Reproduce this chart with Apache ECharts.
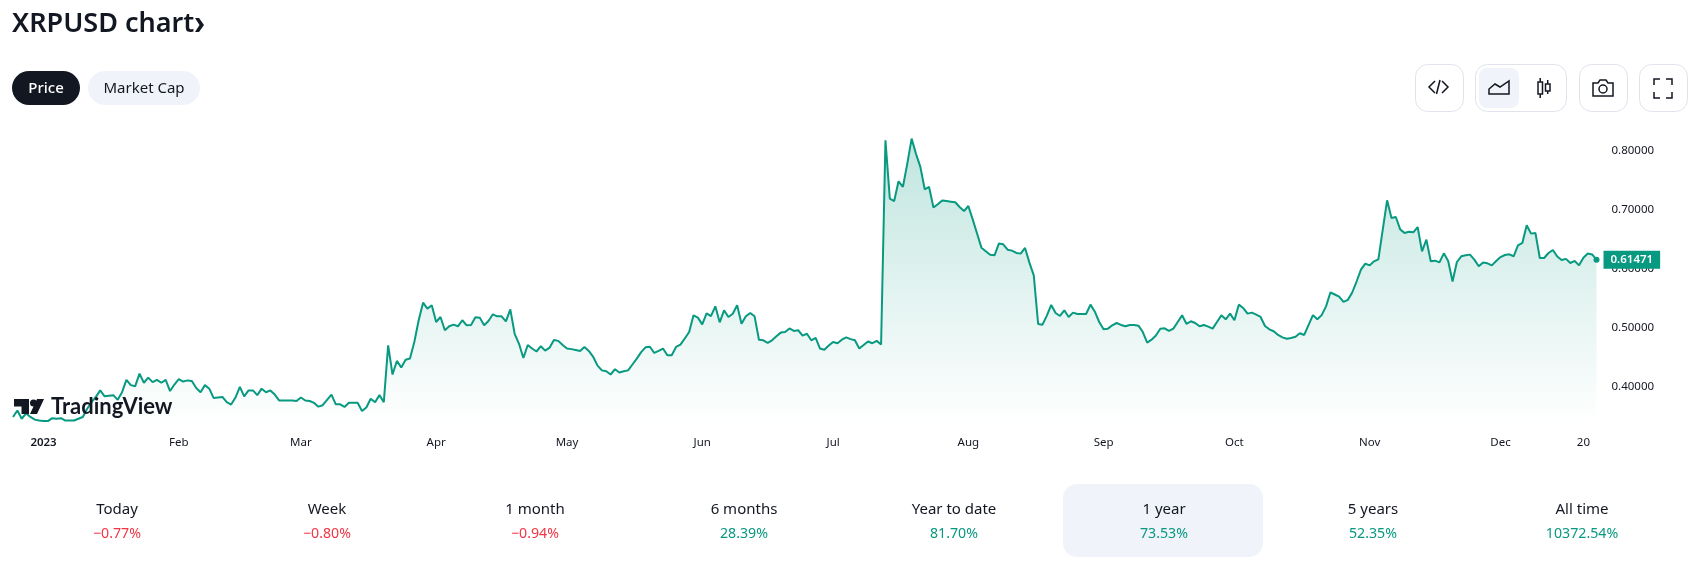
<!DOCTYPE html>
<html><head><meta charset="utf-8">
<style>html,body{margin:0;padding:0;background:#fff;overflow:hidden}#c{width:1696px;height:564px}</style>
<script src="https://cdn.jsdelivr.net/npm/echarts@6/dist/echarts.min.js"></script>
</head><body><div id="c"></div>
<script>
const startDate = "2022-12-25";
const prices = [
.348,.359,.345,.354,.348,.3435,.342,.341,.341,.346,
.345,.346,.342,.342,.342,.345,.348,.362,.373,.382,
.393,.383,.384,.385,.377,.390,.411,.402,.400,.4215,
.406,.4147,.407,.411,.406,.411,.392,.403,.412,.408,
.410,.409,.397,.390,.402,.396,.380,.381,.382,.373,
.369,.381,.399,.383,.393,.393,.385,.396,.390,.393,
.386,.376,.376,.376,.376,.375,.381,.376,.375,.372,
.3655,.368,.377,.386,.3695,.3695,.365,.372,.372,.372,
.358,.364,.379,.373,.385,.373,.4695,.420,.443,.432,
.445,.447,.475,.512,.5418,.5316,.5373,.509,.5175,.495,
.5017,.5045,.5017,.512,.5034,.504,.517,.5164,.5034,.5107,
.522,.5186,.5186,.510,.5305,.489,.472,.448,.470,.464,
.459,.468,.4605,.4655,.4785,.477,.470,.464,.463,.4615,
.46,.4667,.46,.45,.435,.427,.4255,.42,.429,.4235,
.4255,.427,.437,.447,.458,.466,.467,.4565,.46,.464,
.4525,.4525,.4667,.4706,.481,.492,.5203,.5164,.505,.5237,
.519,.5356,.5085,.5288,.5175,.523,.5373,.506,.5186,.5243,
.5186,.479,.478,.4735,.478,.4847,.491,.492,.498,.4938,
.495,.486,.489,.478,.482,.464,.462,.469,.475,.473,
.479,.483,.480,.478,.464,.470,.476,.473,.477,.471,
.817,.718,.714,.7475,.738,.777,.8198,.794,.772,.734,
.738,.703,.7085,.715,.714,.713,.712,.704,.697,.7056,
.683,.659,.635,.629,.623,.622,.642,.6407,.6316,.63,
.626,.6249,.6345,.6096,.588,.5056,.5045,.5198,.5379,.5243,
.5192,.5288,.5175,.5249,.5226,.5226,.5226,.5384,.5265,.509,
.4966,.4977,.5034,.5073,.504,.5017,.504,.504,.5028,.492,
.474,.479,.486,.4977,.4983,.4938,.4977,.509,.5203,.506,
.5102,.5073,.5017,.504,.5011,.4977,.509,.5203,.5136,.5232,
.5119,.5384,.5328,.5232,.5249,.5215,.5175,.5023,.4966,.4933,
.487,.483,.4805,.482,.484,.49,.487,.504,.5207,.5135,
.5207,.5355,.559,.5556,.552,.543,.5465,.559,.5776,.5977,
.6079,.605,.6119,.6153,.6655,.7153,.6853,.687,.666,.66,
.662,.661,.67,.6288,.6486,.6119,.613,.61,.6254,.6124,
.5776,.6107,.6204,.622,.6232,.6147,.6034,.61,.6085,.605,
.6124,.619,.6226,.6237,.6204,.639,.643,.673,.6588,.66,
.6175,.6175,.626,.631,.62,.614,.616,.609,.6125,.605,
.618,.625,.6235,.61471
];
const yTicks = [0.4,0.5,0.6,0.7,0.8];
const xTickLabels = {"2023-01-01":"2023","2023-02-01":"Feb","2023-03-01":"Mar","2023-04-01":"Apr","2023-05-01":"May","2023-06-01":"Jun","2023-07-01":"Jul","2023-08-01":"Aug","2023-09-01":"Sep","2023-10-01":"Oct","2023-11-01":"Nov","2023-12-01":"Dec","2023-12-20":"20"};
const tabNames = ["Today","Week","1 month","6 months","Year to date","1 year","5 years","All time"];
const tabChanges = ["−0.77%","−0.80%","−0.94%","28.39%","81.70%","73.53%","52.35%","10372.54%"];
const tabCenters = [117,327,535,744,954,1164,1373,1582];

const categories = prices.map((_, i) => {
  const d = new Date(startDate + "T00:00:00Z"); d.setUTCDate(d.getUTCDate() + i);
  return d.toISOString().slice(0,10);
});
const FONT = '"Noto Sans",sans-serif', INK = '#131722', GREEN = '#089981', RED = '#f23645', PALE = '#f0f3fa', EDGE = '#e0e3eb';
const txt = (x,y,text,size,color,weight,align,family) => ({type:'text',z:20,x,y,style:{text,fontFamily:family||FONT,fontSize:size,fill:color,fontWeight:weight||400,align:align||'center',verticalAlign:'middle'}});
const box = (x,y,w,h,r,fill,stroke) => ({type:'rect',z:15,shape:{x,y,width:w,height:h,r},style:{fill:fill||'#fff',stroke:stroke||null,lineWidth:1}});
const pl = (points) => ({type:'polyline',z:20,shape:{points},style:{fill:'none',stroke:INK,lineWidth:1.5}});
const pg = (points,fill) => ({type:'polygon',z:20,shape:{points},style:fill?{fill,stroke:null}:{fill:'none',stroke:INK,lineWidth:1.5}});
const rc = (x,y,w,h) => ({type:'rect',z:20,shape:{x,y,width:w,height:h},style:{fill:'none',stroke:INK,lineWidth:1.5}});
const graphics = [
  txt(12,24,'XRPUSD chart',27,INK,600,'left'),
  pg([[195,18],[199,18],[204,25],[199,32],[195,32],[199.5,25]],INK),
  box(12,71,68,34,17,INK), txt(46,89,'Price',15,'#fff',500),
  box(88,71,112,34,17,PALE), txt(144,89,'Market Cap',15,INK,400),
  box(1415.5,64.5,48,47,12,'#fff',EDGE),
  pl([[1435,81],[1429,87],[1435,93]]), pl([[1440,80],[1436.5,94]]), pl([[1442,81],[1448,87],[1442,93]]),
  box(1475.5,64.5,91,47,12,'#fff',EDGE), box(1479,68,40,40,8,PALE),
  pg([[1489,94],[1489,89],[1495,84],[1500,87],[1509,81],[1509,94]]),
  rc(1538,82,4.5,12), pl([[1540.2,78],[1540.2,82]]), pl([[1540.2,94],[1540.2,98]]),
  rc(1545.5,84,4.5,7), pl([[1547.7,80],[1547.7,84]]), pl([[1547.7,91],[1547.7,94]]),
  box(1579.5,64.5,48,47,12,'#fff',EDGE),
  pg([[1593,83],[1598,83],[1600,80],[1606,80],[1608,83],[1613,83],[1613,96],[1593,96]]),
  {type:'circle',z:20,shape:{cx:1603,cy:89,r:4},style:{fill:'none',stroke:INK,lineWidth:1.5}},
  box(1639.5,64.5,48,47,12,'#fff',EDGE),
  pl([[1654,85],[1654,79],[1660,79]]), pl([[1666,79],[1672,79],[1672,85]]), pl([[1654,92],[1654,98],[1660,98]]), pl([[1672,92],[1672,98],[1666,98]]),
  pg([[14,399],[29,399],[29,414],[21.5,414],[21.5,406.5],[14,406.5]],INK),
  {type:'circle',z:20,shape:{cx:33.5,cy:403,r:3.5},style:{fill:INK}},
  pg([[37,399],[44,399],[37,414],[30,414]],INK),
  txt(51,407,'TradingView',22,INK,700,'left','Lato'),
  box(1063,484,200,73,14,PALE)
];
tabNames.forEach((n,i)=>{
  graphics.push(txt(tabCenters[i],510,n,15,INK));
  graphics.push(txt(tabCenters[i],534,tabChanges[i],14.2,tabChanges[i][0]==='−'?RED:GREEN));
});
const chart = echarts.init(document.getElementById('c'),null,{renderer:'canvas'});
chart.setOption({
  animation:false,
  grid:{left:13,right:99.5,top:120,bottom:139},
  xAxis:{type:'category',data:categories,boundaryGap:false,
    axisLine:{show:false},axisTick:{show:false},splitLine:{show:false},
    axisLabel:{interval:(i,v)=>v in xTickLabels,margin:12,fontSize:11.5,fontFamily:FONT,color:INK,hideOverlap:false,
      formatter:v=>{const l=xTickLabels[v]||'';return l==='2023'?'{b|2023}':l;},
      rich:{b:{fontWeight:600,fontSize:11.5,fontFamily:FONT,color:INK}}}},
  yAxis:{type:'value',position:'right',min:0.3344,max:0.8514,
    axisLine:{show:false},axisTick:{show:false},splitLine:{show:false},
    axisLabel:{customValues:yTicks,margin:15,fontSize:11.5,fontFamily:FONT,color:INK,align:'left',padding:[4,0,0,0],formatter:v=>v.toFixed(5)}},
  series:[{type:'line',data:prices,smooth:false,showSymbol:true,showAllSymbol:true,symbol:'circle',
    symbolSize:(v,p)=>p.dataIndex===prices.length-1?6:0,
    lineStyle:{color:GREEN,width:2},itemStyle:{color:GREEN},
    areaStyle:{color:new echarts.graphic.LinearGradient(0,0,0,1,[{offset:0,color:'rgba(8,153,129,0.36)'},{offset:1,color:'rgba(8,153,129,0.0)'}])},
    endLabel:{show:true,formatter:()=>prices[prices.length-1].toFixed(5),backgroundColor:GREEN,color:'#fff',fontFamily:FONT,fontSize:11.5,fontWeight:600,padding:[3,7],distance:7},
    emphasis:{disabled:true},silent:true,z:5}],
  graphic:graphics
});
</script></body></html>
